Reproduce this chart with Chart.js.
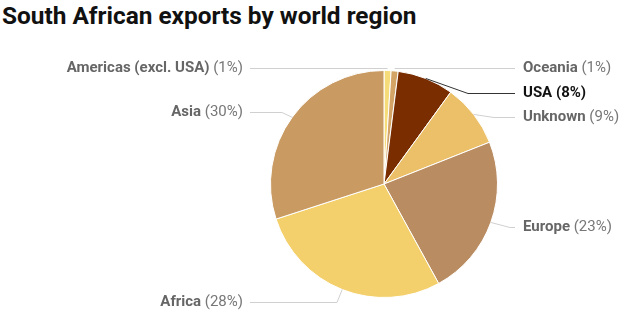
<!DOCTYPE html>
<html>
<head>
<meta charset="utf-8">
<script src="https://cdn.jsdelivr.net/npm/chart.js@4.4.1/dist/chart.umd.min.js"></script>
<style>
  html, body { margin: 0; padding: 0; background: #fff; }
  #wrap { position: relative; width: 626px; height: 318px; }
  #title { position: absolute; left: 2px; top: 1px; font: bold 24.4px Roboto, sans-serif; color: #111; white-space: nowrap; }
  canvas { position: absolute; left: 0; top: 0; }
</style>
</head>
<body>
<div id="wrap">
  <div id="title">South African exports by world region</div>
  <canvas id="myChart" width="626" height="318"></canvas>
</div>
<script>
const regions = ['Americas (excl. USA)', 'Oceania', 'USA', 'Unknown', 'Europe', 'Africa', 'Asia'];
const shares = [1, 1, 8, 9, 23, 28, 30];
const sliceColors = ['#f6dc78', '#d3a466', '#7a2e00', '#ecc068', '#b98c62', '#f3d06b', '#c99b62'];

// where each label sits: side, text y, x of the elbow in the leader line
const labelLayout = [
    { side: -1, y: 68, ex: null },
    { side: 1, y: 68, ex: null },
    { side: 1, y: 93, ex: 468 },
    { side: 1, y: 117, ex: 494 },
    { side: 1, y: 227, ex: 510 },
    { side: -1, y: 302, ex: 337 },
    { side: -1, y: 112, ex: 282 }
];
const highlight = 'USA';

const leaderLabels = {
    id: 'leaderLabels',
    afterDatasetsDraw(chart) {
        const c = chart.ctx;
        const meta = chart.getDatasetMeta(0);
        meta.data.forEach((arc, i) => {
            const lay = labelLayout[i];
            const mid = (arc.startAngle + arc.endAngle) / 2;
            const r = arc.outerRadius;
            let ax = arc.x + Math.cos(mid) * r;
            let ay = arc.y + Math.sin(mid) * r;
            const hot = regions[i] === highlight;
            c.save();
            c.strokeStyle = hot ? '#333' : '#d0d0d0';
            c.lineWidth = 1;
            c.beginPath();
            const endX = lay.side > 0 ? 515 : 250;
            if (lay.ex === null) {
                c.moveTo(ax, lay.y + 0.5);
            } else {
                c.moveTo(ax, ay);
                c.lineTo(lay.ex, lay.y + 0.5);
            }
            c.lineTo(endX, lay.y + 0.5);
            c.stroke();

            const name = regions[i];
            const pct = ' (' + shares[i] + '%)';
            const tx = lay.side > 0 ? 523 : 243;
            c.textBaseline = 'middle';
            c.textAlign = 'left';
            const boldFont = 'bold 15px Roboto';
            const normFont = (hot ? 'bold ' : '') + '15px Roboto';
            c.font = boldFont;
            const w1 = c.measureText(name).width;
            c.font = normFont;
            const w2 = c.measureText(pct).width;
            const x0 = lay.side > 0 ? tx : tx - w1 - w2;
            c.font = boldFont;
            c.fillStyle = hot ? '#111' : '#666';
            c.fillText(name, x0, lay.y);
            c.font = normFont;
            c.fillStyle = hot ? '#111' : '#777';
            c.fillText(pct, x0 + w1, lay.y);
            c.restore();
        });
    }
};

const ctx = document.getElementById('myChart').getContext('2d');
const myChart = new Chart(ctx, {
    type: 'pie',
    data: {
        labels: regions,
        datasets: [{
            data: shares,
            backgroundColor: sliceColors,
            borderColor: '#ffffff',
            borderWidth: 1
        }]
    },
    options: {
        responsive: false,
        animation: false,
        layout: { padding: { left: 270, right: 128, top: 70, bottom: 20 } },
        plugins: {
            legend: { display: false },
            tooltip: { enabled: false }
        }
    },
    plugins: [leaderLabels]
});
</script>
</body>
</html>
